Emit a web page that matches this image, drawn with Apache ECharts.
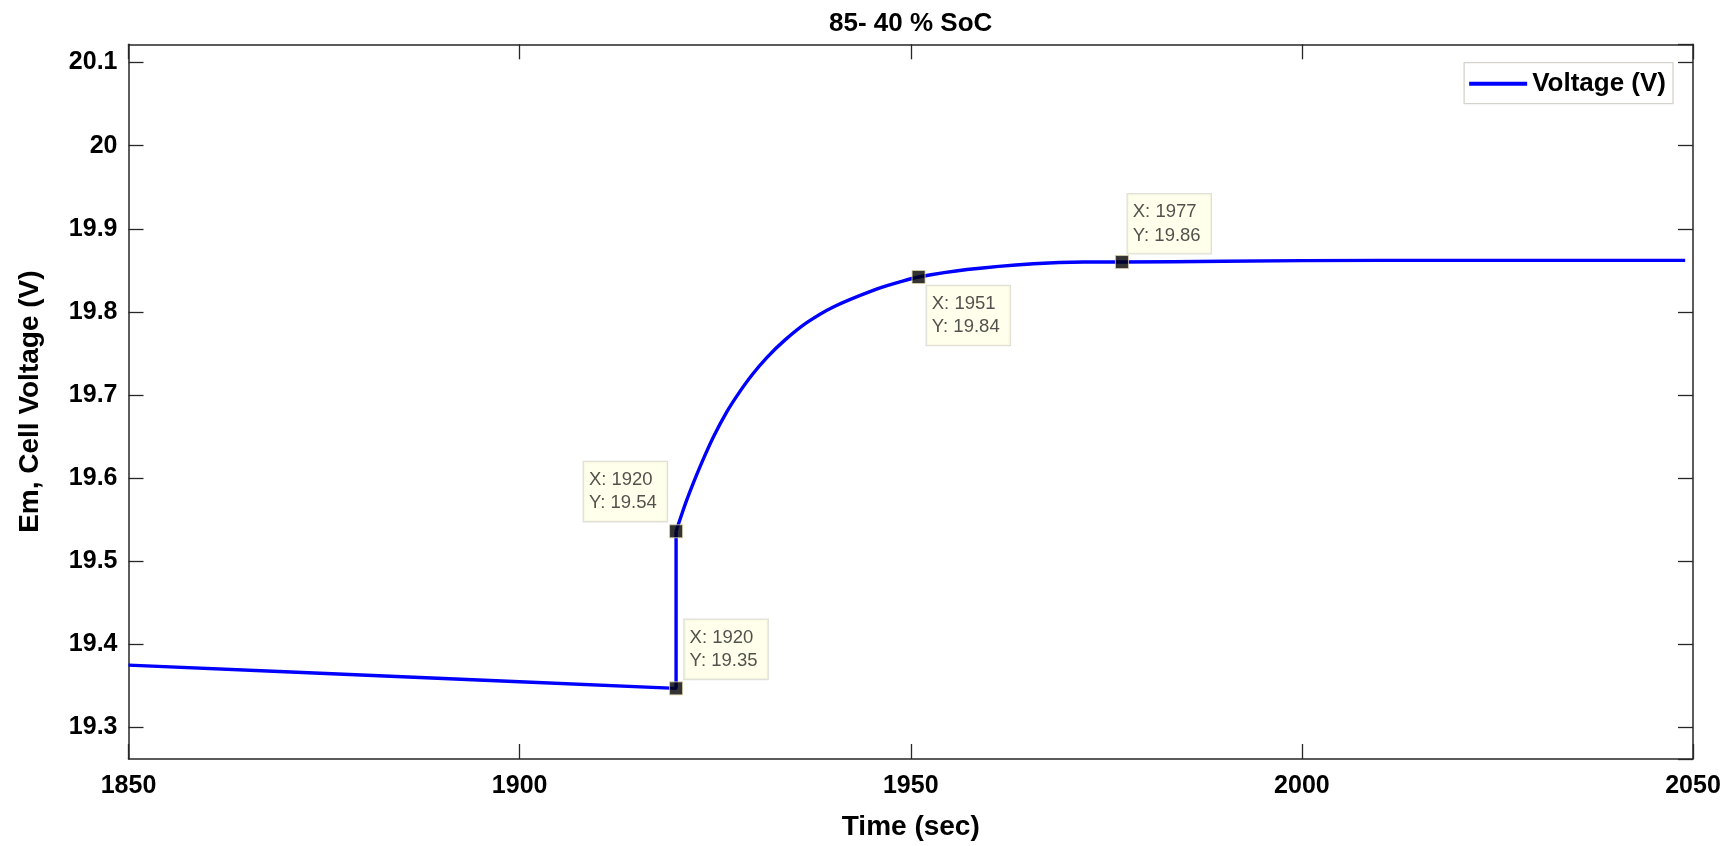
<!DOCTYPE html>
<html>
<head>
<meta charset="utf-8">
<style>
html,body{margin:0;padding:0;background:#fff;}
#chart{width:1727px;height:846px;}
</style>
<script src="https://cdn.jsdelivr.net/npm/echarts@6/dist/echarts.min.js"></script>
</head>
<body>
<div id="chart"></div>
<script>
// ---- data ----
const chartTitle = '85- 40 % SoC';
const seriesName = 'Voltage (V)';
// before and at the step (1850 .. 1920, including the vertical jump)
const timeStep = [1850, 1870, 1900, 1920, 1920];
const voltStep = [19.375, 19.367, 19.355, 19.347, 19.536];
// recovery after the step (1920 .. 2049)
const timeRec = [1920, 1920.6, 1921.3, 1922.2, 1923.3, 1924.8, 1926.5, 1928.0, 1929.7, 1931.6, 1933.9, 1936.7, 1940.1, 1945.2, 1948.6, 1951, 1957.2, 1965.7, 1972.1, 1977, 1990, 2010, 2030, 2049];
const voltRec = [19.536, 19.553, 19.572, 19.594, 19.619, 19.650, 19.680, 19.702, 19.724, 19.745, 19.766, 19.787, 19.806, 19.826, 19.836, 19.842, 19.851, 19.858, 19.860, 19.860, 19.861, 19.862, 19.862, 19.862];
const tipTime = [1920, 1920, 1951, 1977];
const tipVolt = [19.347, 19.536, 19.842, 19.860];
const xTicks = [1850, 1900, 1950, 2000, 2050];
const yTickLabels = ['19.3', '19.4', '19.5', '19.6', '19.7', '19.8', '19.9', '20', '20.1'];

// ---- chart ----
const FONT = '"Liberation Sans", Arial, Helvetica, sans-serif';
const AX = '#262626';
const xMin = xTicks[0], xMax = xTicks[xTicks.length - 1];
const yMin = 19.262, yMax = 20.122;

const stepData = timeStep.map((t, i) => [t, voltStep[i]]);
const recData = timeRec.map((t, i) => [t, voltRec[i]]);
// label offsets (style only)
const tipOffsets = [[15.5, -61.5], [-85.2, -62.2], [15.2, 16], [12.8, -60.8]];
const tipData = tipTime.map((t, i) => ({
  value: [t, tipVolt[i]],
  label: { position: tipOffsets[i] }
}));

function yLabel(v) {
  const r = Math.round(v * 10) / 10;
  if (Math.abs(v - r) > 1e-6) return '';
  const s = String(r);
  return yTickLabels.indexOf(s) >= 0 ? s : '';
}

const tickStyle = { inside: true, length: 15, lineStyle: { color: AX, width: 1.3 } };
const axisLineStyle = { show: true, onZero: false, lineStyle: { color: AX, width: 1.5 } };
const blueLine = { color: '#0000FF', width: 3.4 };

const option = {
  animation: false,
  backgroundColor: '#ffffff',
  title: {
    text: chartTitle,
    left: 910.7,
    textAlign: 'center',
    top: 11,
    padding: 0,
    textStyle: { fontFamily: FONT, fontWeight: 'bold', fontSize: 26, color: '#000' }
  },
  legend: {
    data: [seriesName],
    right: 54,
    top: 62.7,
    orient: 'vertical',
    icon: 'rect',
    itemWidth: 58,
    itemHeight: 4,
    padding: [8, 7, 7, 5],
    borderColor: '#D6D3CC',
    borderWidth: 1.3,
    backgroundColor: '#fff',
    textStyle: { fontFamily: FONT, fontWeight: 'bold', fontSize: 26, color: '#000' }
  },
  grid: { left: 128.5, right: 34, top: 44.3, bottom: 85, containLabel: false },
  xAxis: [{
    type: 'value', min: xMin, max: xMax, interval: 50,
    name: 'Time (sec)', nameLocation: 'middle', nameGap: 54,
    nameTextStyle: { fontFamily: FONT, fontWeight: 'bold', fontSize: 28, color: '#000' },
    axisLine: axisLineStyle, axisTick: tickStyle,
    axisLabel: { margin: 15, fontFamily: FONT, fontWeight: 'bold', fontSize: 25, color: '#000', formatter: v => String(v) },
    splitLine: { show: false }
  }, {
    type: 'value', position: 'top', min: xMin, max: xMax, interval: 50,
    axisLine: axisLineStyle, axisTick: tickStyle, axisLabel: { show: false }, splitLine: { show: false }
  }],
  yAxis: [{
    type: 'value', min: yMin, max: yMax, splitNumber: 8, minInterval: 0.1, maxInterval: 0.1,
    name: 'Em, Cell Voltage (V)', nameLocation: 'middle', nameGap: 84,
    nameTextStyle: { fontFamily: FONT, fontWeight: 'bold', fontSize: 28, color: '#000' },
    axisLine: axisLineStyle, axisTick: tickStyle,
    axisLabel: { margin: 11, fontFamily: FONT, fontWeight: 'bold', fontSize: 25, color: '#000', formatter: yLabel, showMinLabel: false, showMaxLabel: false },
    splitLine: { show: false }
  }, {
    type: 'value', position: 'right', min: yMin, max: yMax, splitNumber: 8, minInterval: 0.1, maxInterval: 0.1,
    axisLine: axisLineStyle, axisTick: tickStyle, axisLabel: { show: false }, splitLine: { show: false }
  }],
  series: [{
    name: seriesName,
    type: 'line',
    data: stepData,
    symbol: 'none',
    lineStyle: blueLine,
    itemStyle: { color: '#0000FF' },
    z: 3
  }, {
    name: seriesName,
    type: 'line',
    data: recData,
    symbol: 'none',
    smooth: 0.3,
    lineStyle: blueLine,
    itemStyle: { color: '#0000FF' },
    z: 3
  }, {
    name: 'tips',
    type: 'scatter',
    data: tipData,
    symbol: 'rect',
    symbolSize: 13,
    itemStyle: { color: '#000', borderColor: '#D9D2A8', borderWidth: 1 },
    z: 5,
    label: {
      show: true,
      formatter: p => 'X: ' + p.value[0] + '\nY: ' + p.value[1].toFixed(2),
      fontFamily: FONT,
      fontSize: 18.5,
      lineHeight: 23.5,
      color: '#262626',
      backgroundColor: '#FFFFE6',
      borderColor: '#D8D8CF',
      borderWidth: 1.3,
      padding: [6, 6, 6, 5],
      width: 72,
      align: 'left',
      verticalAlign: 'top'
    },
    emphasis: { disabled: true }
  }]
};

const chart = echarts.init(document.getElementById('chart'), null, { renderer: 'canvas' });
chart.setOption(option);
</script>
</body>
</html>
